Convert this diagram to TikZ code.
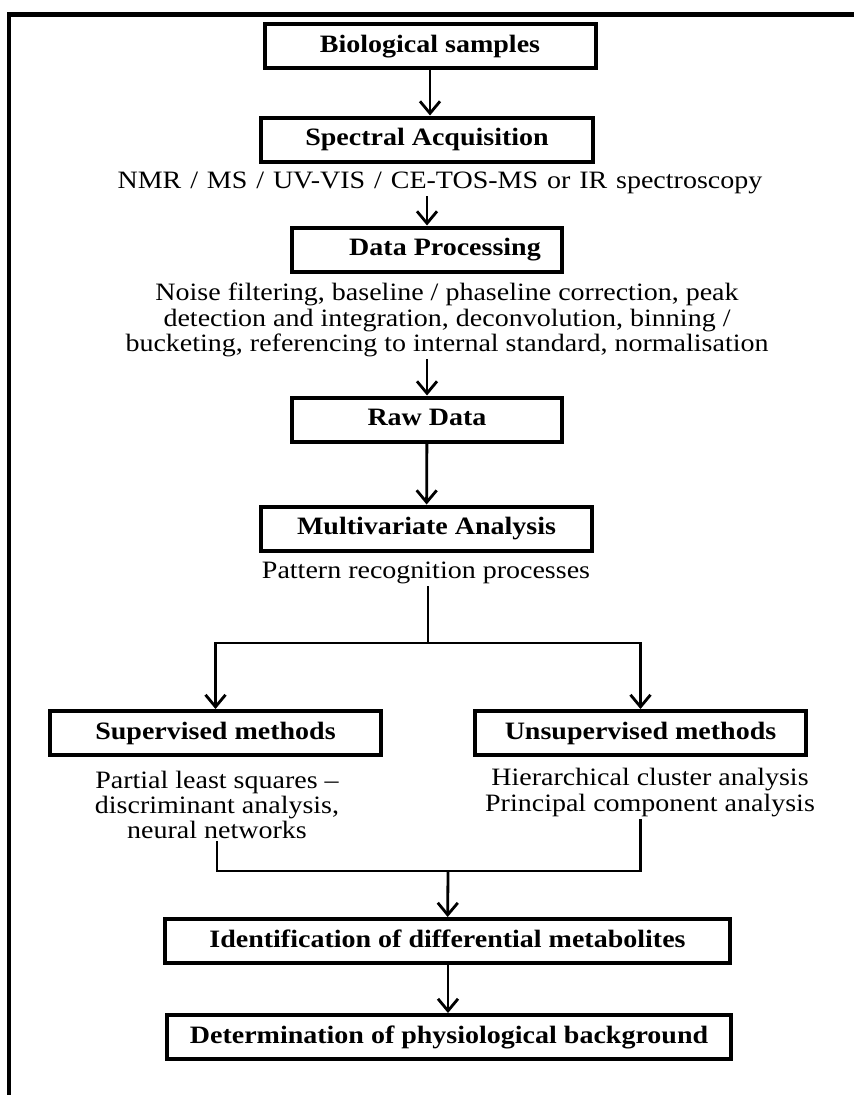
\documentclass[tikz,border=0pt]{standalone}
\usepackage{fontspec}
\setmainfont{Liberation Serif}[FakeStretch=1.12]
\usetikzlibrary{arrows.meta}
\newcommand\diagfont{\fontsize{25}{25.3}\selectfont}

\begin{document}
\begin{tikzpicture}[x=1pt, y=-1pt,
    box/.style={draw, line width=4pt, font=\diagfont\bfseries, minimum height=44pt, text height=17.5pt, text depth=5.5pt, inner sep=0pt},
    note/.style={font=\diagfont, align=center, inner sep=2pt},
    arr/.style={line width=2.8pt, -{Straight Barb[length=12pt,width=20pt]}},
    link/.style={line width=2.8pt}]
    \useasboundingbox (0,0) rectangle (854,1095);

    % Frame
    \draw[line width=4.5pt] (9,1100) -- (9,14.5) -- (860,14.5);

    % Acquisition and processing
    \node[box, minimum width=331pt] (bio) at (430,46) {Biological samples};
    \node[box, minimum width=332pt] (spec) at (427,139.5) {Spectral Acquisition};
    \node[note] (nmr) at (440,183) {\spaceskip=8.9pt\relax NMR / MS / UV-VIS / CE-TOS-MS or IR spectroscopy};
    \node[box, minimum width=270pt] (dp) at (427,249.5) {\hspace*{36pt}Data Processing};
    \node[note] (noise) at (447,320) {Noise filtering, baseline / phaseline correction, peak\\detection and integration, deconvolution, binning /\\bucketing, referencing to internal standard, normalisation};
    \node[box, minimum width=270pt] (raw) at (427,419.5) {Raw Data};

    % Analysis
    \node[box, minimum width=331pt] (mva) at (426.5,528.5) {Multivariate Analysis};
    \node[note] (pat) at (426,573) {Pattern recognition processes};
    \node[box, minimum width=331pt] (sup) at (215.5,733) {Supervised methods};
    \node[box, minimum width=331pt] (unsup) at (640.5,733) {Unsupervised methods};
    \node[note] (suptxt) at (217,805) {Partial least squares --\\discriminant analysis,\\neural networks};
    \node[note] (unsuptxt) at (650,792.5) {Hierarchical cluster analysis\\Principal component analysis};

    % Results
    \node[box, minimum width=565pt] (ident) at (447.5,941) {Identification of differential metabolites};
    \node[box, minimum width=564pt] (det) at (449,1037) {Determination of physiological background};

    \coordinate (split) at (428,643);
    \coordinate (join) at (448,871);

    % Arrows
    \draw[arr] (bio.south) -- (bio.south |- spec.north);
    \draw[arr] (nmr.south -| dp) -- (dp);
    \draw[arr] (noise.south -| raw) -- (raw);
    \draw[arr] (raw) -- (mva);
    \draw[link] (pat.south -| split) -- (split);
    \draw[arr] (split) -| (sup);
    \draw[arr] (split) -| (unsup);
    \draw[link] (suptxt.south) |- (join) -| (unsuptxt.south -| unsup);
    \draw[arr] (join) -- (ident);
    \draw[arr] (ident.south -| join) -- (det.north -| join);

\end{tikzpicture}
\end{document}
